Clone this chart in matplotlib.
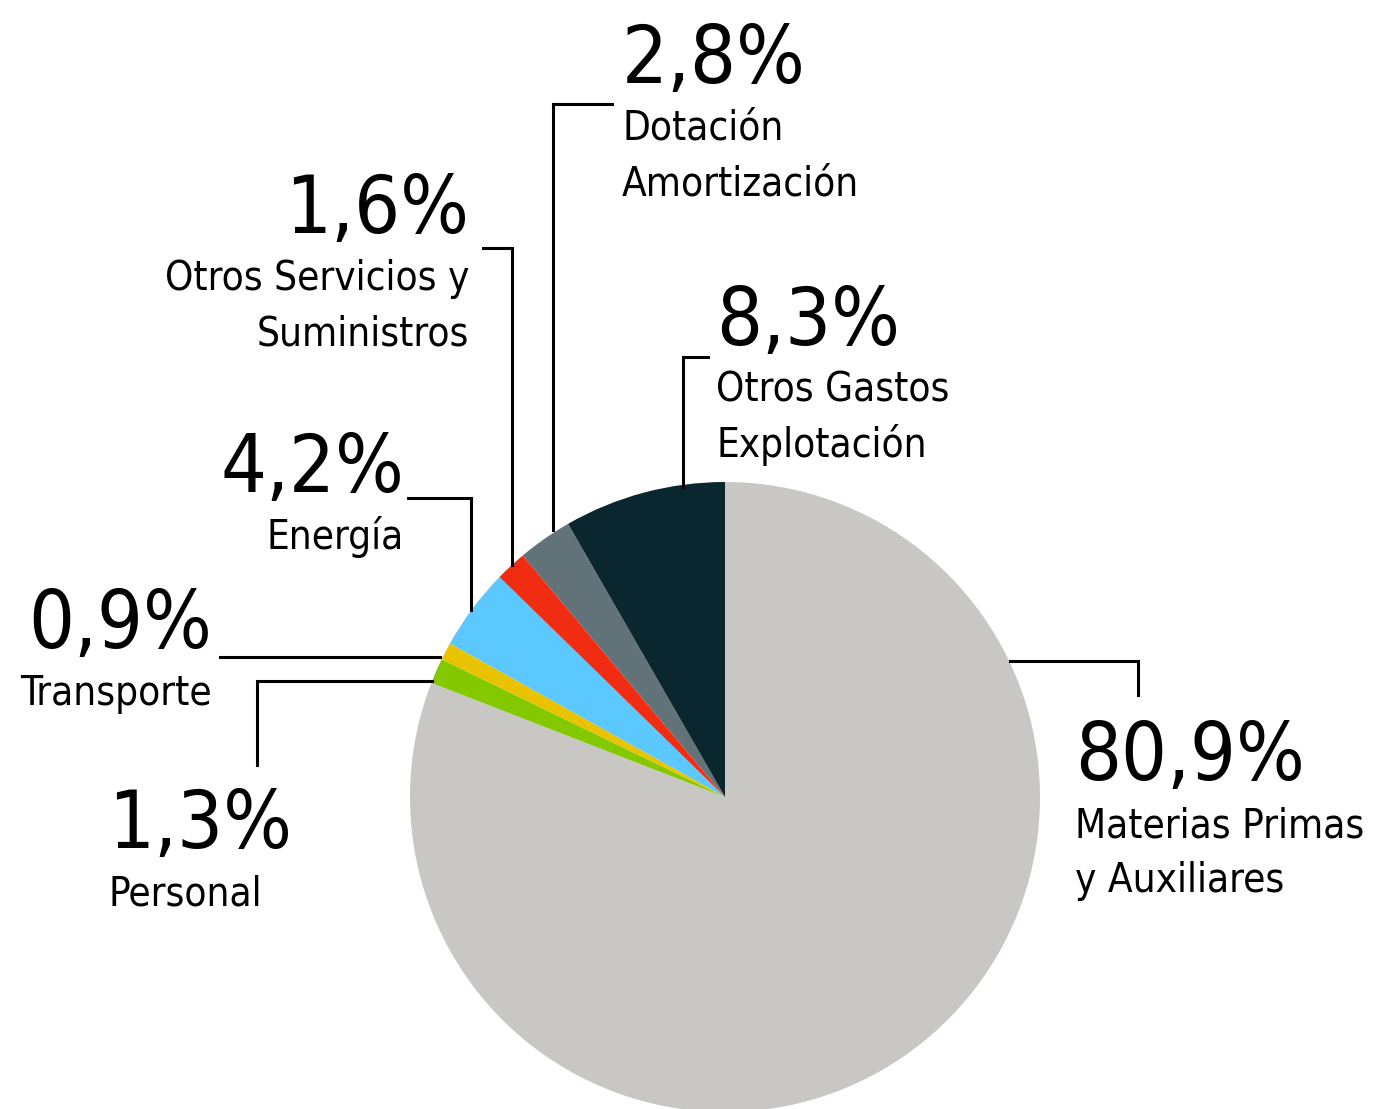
import matplotlib
matplotlib.use("Agg")
import matplotlib.pyplot as plt

plt.rcParams['font.family'] = ['DejaVu Sans']
plt.rcParams['font.stretch'] = 'condensed'

# data, clockwise from the top
labels = ['Materias Primas\ny Auxiliares', 'Personal', 'Transporte', 'Energía',
          'Otros Servicios y\nSuministros', 'Dotación\nAmortización',
          'Otros Gastos\nExplotación']
values = [80.9, 1.3, 0.9, 4.2, 1.6, 2.8, 8.3]
colors = ['#c8c7c3', '#84c800', '#eac300', '#5bc8ff', '#f02d12', '#617379', '#0a2730']

W, H = 1373, 1109
fig = plt.figure(figsize=(W / 100, H / 100), dpi=100)
ax = fig.add_axes([0, 0, 1, 1])

cx, cy, r = 725, H - 797, 315
ax.pie(values, colors=colors, startangle=90, counterclock=False,
       center=(cx, cy), radius=r, frame=True,
       wedgeprops=dict(linewidth=0))
ax.set_xlim(0, W)
ax.set_ylim(0, H)
ax.set_aspect('equal')
ax.axis('off')

def Y(py):
    return H - py

# label anchor in pixels: (x, baseline of %, align)
pos = [
    (1075, 780, 'left'),
    (108, 848, 'left'),
    (212, 648, 'right'),
    (404, 492, 'right'),
    (469, 233, 'right'),
    (622, 83, 'left'),
    (716, 345, 'left'),
]
# leader lines in pixels
leaders = [
    [(1010, 661), (1138, 661), (1138, 695)],
    [(432, 681), (257, 681), (257, 765)],
    [(440, 657), (220, 657)],
    [(471, 610), (471, 498), (408, 498)],
    [(512, 565), (512, 248), (483, 248)],
    [(553, 530), (553, 104), (612, 104)],
    [(683, 487), (683, 357), (708, 357)],
]

for lab, v, (x, y, ha), pts in zip(labels, values, pos, leaders):
    pct = f"{v:.1f}".replace('.', ',') + '%'
    ax.text(x, Y(y), pct, ha=ha, va='baseline', fontsize=58, color='black')
    for i, line in enumerate(lab.split('\n')):
        ax.text(x, Y(y + 57 + 55 * i), line, ha=ha, va='baseline',
                fontsize=29, color='black')
    xs = [p[0] for p in pts]
    ys = [Y(p[1]) for p in pts]
    ax.plot(xs, ys, color='black', lw=2.2, solid_joinstyle='miter')

fig.savefig('out.png', dpi=100, facecolor='white')
